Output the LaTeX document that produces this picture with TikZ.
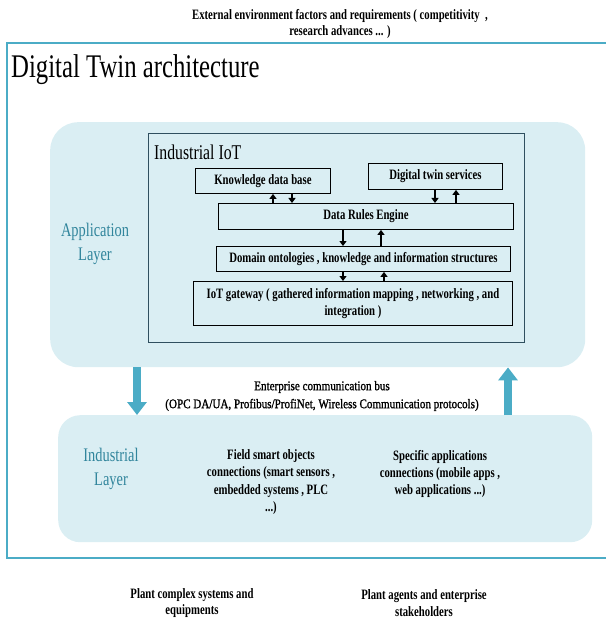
\documentclass[tikz,border=0pt]{standalone}
\usepackage{fontspec}
\setmainfont{Liberation Serif}[FakeStretch=0.75]
\newfontfamily\busfont{Liberation Serif}[FakeStretch=0.84,FakeBold=1.3]
\usetikzlibrary{arrows.meta}
\definecolor{frameteal}{HTML}{4BACC6}
\definecolor{layerfill}{HTML}{DAEEF3}
\definecolor{layertext}{HTML}{31859C}
\definecolor{iotborder}{HTML}{2F4F5F}
\tikzset{
  lbl/.style={font=\fontsize{14.3}{16.5}\selectfont\bfseries, align=center, inner sep=0pt},
  layer/.style={fill=layerfill, draw=none, rounded corners=28pt},
  innerbox/.style={draw=black, line width=0.9pt, font=\fontsize{14.3}{17}\selectfont\bfseries, align=center, inner sep=0pt},
  layername/.style={text=layertext, font=\fontsize{19.2}{24}\selectfont, align=center, inner sep=0pt},
  smallarr/.style={line width=2.2pt, -{Triangle[length=5pt,width=7pt]}},
  bigarr/.style={draw=frameteal, line width=8pt, -{Triangle[length=13pt,width=19pt]}},
}
\begin{document}
\begin{tikzpicture}[x=1pt,y=-1pt]
\useasboundingbox (0,0) rectangle (605,620);
% top text
\node[lbl] (ext) at (340,24) {External environment factors and requirements ( competitivity\ \ ,\\research advances ... )};
% frame
\draw[frameteal, line width=2pt] (606,43) -- (7,43) -- (7,558) -- (606,558);
\node[anchor=west, font=\fontsize{33}{36}\selectfont, inner sep=0pt] (title) at (11,70) {Digital Twin architecture};
% application layer
\node[layer, minimum width=535pt, minimum height=245pt, anchor=north west] (app) at (50,122) {};
\node[layername] (applbl) at (95,244) {Application\\Layer};
% industrial iot box
\node[draw=iotborder, line width=1.4pt, fill=layerfill, minimum width=376pt, minimum height=209pt, anchor=north west, inner sep=0pt] (iot) at (148,133) {};
\node[anchor=west, font=\fontsize{21}{24}\selectfont, inner sep=0pt] (iotlbl) at (154,152) {Industrial IoT};
% inner boxes
\node[innerbox, minimum width=135pt, minimum height=25pt, anchor=north west] (kdb) at (195,168) {Knowledge data base};
\node[innerbox, minimum width=134pt, minimum height=26pt, anchor=north west] (dts) at (368,163) {Digital twin services};
\node[innerbox, minimum width=295pt, minimum height=26pt, anchor=north west] (dre) at (218,203) {Data Rules Engine};
\node[innerbox, minimum width=294pt, minimum height=25pt, anchor=north west] (dom) at (216,246) {Domain ontologies , knowledge and information structures};
\node[innerbox, minimum width=319pt, minimum height=44pt, anchor=north west] (gw) at (193,281) {IoT gateway ( gathered information mapping , networking , and\\integration )};
% small arrows
\draw[smallarr] (dre.north -| 273,0) -- (kdb.south -| 273,0);
\draw[smallarr] (kdb.south -| 292,0) -- (dre.north -| 292,0);
\draw[smallarr] (dts.south -| 435,0) -- (dre.north -| 435,0);
\draw[smallarr] (dre.north -| 456,0) -- (dts.south -| 456,0);
\draw[smallarr] (dre.south -| 343,0) -- (dom.north -| 343,0);
\draw[smallarr] (dom.north -| 381,0) -- (dre.south -| 381,0);
\draw[smallarr] (dom.south -| 343,0) -- (gw.north -| 343,0);
\draw[smallarr] (gw.north -| 384,0) -- (dom.south -| 384,0);
% industrial layer
\node[layer, rounded corners=22pt, minimum width=534pt, minimum height=127pt, anchor=north west] (ind) at (58,415) {};
\node[layername] (indlbl) at (111,469) {Industrial\\Layer};
% bus text
\node[align=center, inner sep=0pt, font=\busfont\fontsize{13.2}{18}\selectfont] (bus) at (322,396) {Enterprise communication bus\\(OPC DA/UA, Profibus/ProfiNet, Wireless Communication protocols)};
% big arrows
\draw[bigarr] (app.south -| 137,0) -- (ind.north -| 137,0);
\draw[bigarr] (ind.north -| 508,0) -- (app.south -| 508,0);
% industrial layer texts
\node[lbl, font=\fontsize{14.3}{17.3}\selectfont\bfseries] (field) at (271,482) {Field smart objects\\connections (smart sensors ,\\embedded systems , PLC\\...)};
\node[lbl, font=\fontsize{14.3}{17.3}\selectfont\bfseries] (spec) at (440,474) {Specific applications\\connections (mobile apps ,\\web applications ...)};
% bottom texts
\node[lbl] (plant1) at (192,603) {Plant complex systems and\\equipments};
\node[lbl] (plant2) at (424,603) {Plant agents and enterprise\\stakeholders};
\end{tikzpicture}
\end{document}
